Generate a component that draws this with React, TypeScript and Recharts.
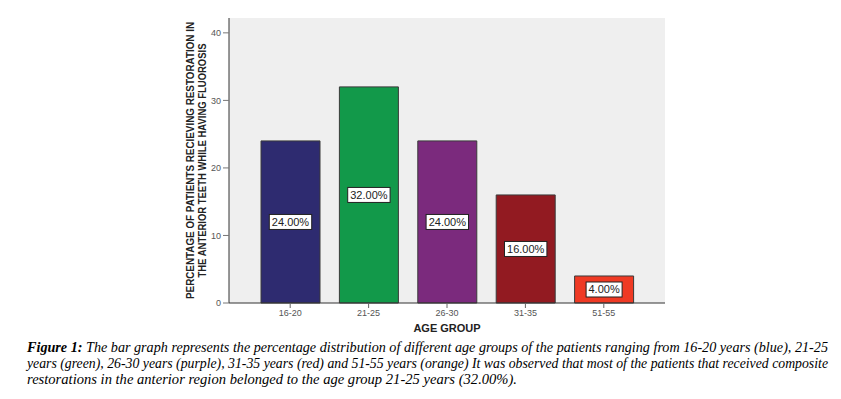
import { BarChart, Bar, XAxis, YAxis, CartesianGrid, LabelList, Cell } from "recharts";

const ageGroups = ["16-20", "21-25", "26-30", "31-35", "51-55"];
const percentages = [24, 32, 24, 16, 4];
const barColors = ["#2e2b70", "#12994a", "#7b2a7d", "#921a21", "#ef3a24"];
const yTicks = [0, 10, 20, 30, 40];

const yTitle = [
  "PERCENTAGE OF PATIENTS RECIEVING RESTORATION IN",
  "THE ANTERIOR TEETH WHILE HAVING FLUOROSIS",
];
const captionLines = [
  "The bar graph represents the percentage distribution of different age groups of the patients ranging from 16-20 years (blue), 21-25",
  "years (green), 26-30 years (purple), 31-35 years (red) and 51-55 years (orange) It was observed that most of the patients that received composite",
  "restorations in the anterior region belonged to the age group 21-25 years (32.00%).",
];

const data = ageGroups.map((g, i) => ({ group: g, pct: percentages[i] }));

const axisFont = "Arial, 'Liberation Sans', sans-serif";
const tickStyle = { fill: "#555", fontSize: 9, fontFamily: axisFont };

function ValueBox(props: any) {
  const { x, y, width, height, value } = props;
  const text = `${Number(value).toFixed(2)}%`;
  const w = text.length * 6.4 + 4;
  const h = 15;
  const cx = x + width / 2;
  const cy = y + height / 2;
  return (
    <g>
      <rect x={cx - w / 2} y={cy - h / 2} width={w} height={h} fill="#fff" stroke="#222" strokeWidth={1} />
      <text x={cx} y={cy + 4} textAnchor="middle" fontSize={11} fontFamily={axisFont} fill="#222">
        {text}
      </text>
    </g>
  );
}

function YTitle(props: any) {
  const vb = props.viewBox;
  const cy = vb.y + vb.height / 2;
  return (
    <g fontFamily={axisFont} fontWeight="bold" fontSize={10} fill="#222">
      <text x={194} y={cy} textAnchor="middle" transform={`rotate(-90 194 ${cy})`} textLength={277} lengthAdjust="spacingAndGlyphs">
        {yTitle[0]}
      </text>
      <text x={206} y={cy} textAnchor="middle" transform={`rotate(-90 206 ${cy})`} textLength={234} lengthAdjust="spacingAndGlyphs">
        {yTitle[1]}
      </text>
    </g>
  );
}

function XTitle(props: any) {
  const vb = props.viewBox;
  return (
    <text x={vb.x + vb.width / 2} y={vb.y + 29} textAnchor="middle" fontFamily={axisFont} fontWeight="bold" fontSize={11} fill="#222">
      AGE GROUP
    </text>
  );
}

export default function App() {
  return (
    <div style={{ position: "absolute", left: 0, top: 0, width: 841, height: 399, background: "#fff" }}>
      <BarChart width={841} height={335} data={data} margin={{ top: 18, right: 176, left: 0, bottom: 2 }} barSize={59}>
        <CartesianGrid fill="#efefef" horizontal={false} vertical={false} />
        <XAxis
          dataKey="group"
          height={30}
          padding={{ left: 22, right: 22 }}
          tick={tickStyle}
          tickSize={5}
          tickLine={{ stroke: "#666" }}
          axisLine={{ stroke: "#333" }}
          label={<XTitle />}
        />
        <XAxis xAxisId="top" orientation="top" dataKey="group" height={0} tick={false} tickLine={false} axisLine={{ stroke: "#777" }} />
        <YAxis
          width={229}
          domain={[0, 42.2]}
          ticks={yTicks}
          tick={tickStyle}
          tickSize={6}
          tickMargin={2}
          tickLine={{ stroke: "#777" }}
          axisLine={{ stroke: "#333" }}
          label={<YTitle />}
        />
        <YAxis yAxisId="right" orientation="right" width={0} domain={[0, 1]} tick={false} tickLine={false} axisLine={{ stroke: "#888" }} />
        <Bar dataKey="pct" stroke="#3a3a3a" strokeWidth={1} isAnimationActive={false}>
          {data.map((d, i) => (
            <Cell key={d.group} fill={barColors[i]} />
          ))}
          <LabelList dataKey="pct" content={<ValueBox />} />
        </Bar>
      </BarChart>
      <svg width={841} height={64} style={{ position: "absolute", left: 0, top: 335 }}>
        <g fontFamily="'Liberation Serif', 'DejaVu Serif', serif" fontStyle="italic" fontSize={14} fill="#000">
          <text x={27} y={17} textLength={801} lengthAdjust="spacingAndGlyphs">
            <tspan fontWeight="bold">Figure 1:</tspan> {captionLines[0]}
          </text>
          <text x={27} y={33} textLength={801} lengthAdjust="spacingAndGlyphs">
            {captionLines[1]}
          </text>
          <text x={27} y={49} textLength={490} lengthAdjust="spacingAndGlyphs">
            {captionLines[2]}
          </text>
        </g>
      </svg>
    </div>
  );
}
